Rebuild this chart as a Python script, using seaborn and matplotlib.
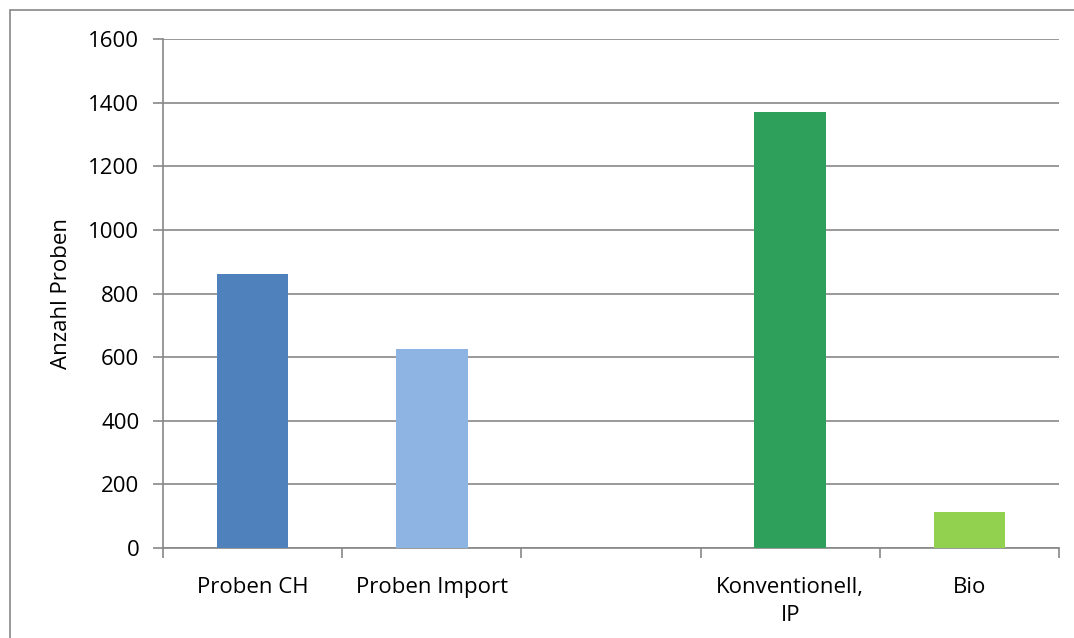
import pandas as pd
import matplotlib.pyplot as plt
import matplotlib.patches as mpatches
import seaborn as sns

# Values
categories = ['Proben CH', 'Proben Import', '', 'Konventionell,\nIP', 'Bio']
values = [860, 625, float('nan'), 1372, 113]
colors = ['#4F81BD', '#8EB4E3', '#FFFFFF', '#2EA05B', '#92D050']
y_ticks = [0, 200, 400, 600, 800, 1000, 1200, 1400, 1600]

grey = '#878787'

sns.set_theme(style='white')
plt.rcParams['font.family'] = ['Open Sans', 'DejaVu Sans']

df = pd.DataFrame({'cat': categories, 'n': values})

fig = plt.figure(figsize=(10.74, 6.38), dpi=100)
ax = fig.add_axes([163 / 1074, 90 / 638, 896 / 1074, 509 / 638])

# outer frame of the chart area
fig.patches.append(mpatches.Rectangle((10 / 1074, -0.1), 1.2, (628 / 638) + 0.1,
                                      transform=fig.transFigure, fill=False,
                                      edgecolor=grey, linewidth=1.2, zorder=0))

sns.barplot(data=df, x='cat', y='n', hue='cat', order=categories,
            palette=dict(zip(categories, colors)), width=0.4,
            legend=False, saturation=1, linewidth=0, ax=ax, zorder=3)

ax.set_ylim(0, 1600)
ax.set_xlim(-0.5, len(categories) - 0.5)
ax.set_yticks(y_ticks)
ax.yaxis.grid(True, color=grey, linewidth=1.2)
ax.set_axisbelow(True)

for side in ['top', 'right']:
    ax.spines[side].set_visible(False)
for side in ['left', 'bottom']:
    ax.spines[side].set_color(grey)
    ax.spines[side].set_linewidth(1.2)

ax.tick_params(axis='y', which='major', direction='out', length=7, width=1.2,
               color=grey, pad=10, labelsize=16, labelcolor='black', left=True)
ax.tick_params(axis='x', which='major', length=0, pad=21, labelsize=16,
               labelcolor='black')
ax.set_xticks(range(len(categories)))
ax.set_xticklabels(categories, multialignment='center', linespacing=1.45)
ax.set_xticks([i - 0.5 for i in range(len(categories) + 1)], minor=True)
ax.tick_params(axis='x', which='minor', direction='out', length=7, width=1.2,
               color=grey, bottom=True)

ax.set_xlabel('')
ax.set_ylabel('Anzahl Proben', fontsize=16, color='black')
ax.yaxis.set_label_coords(-0.102, 0.5)

fig.savefig('out.png', dpi=100)
